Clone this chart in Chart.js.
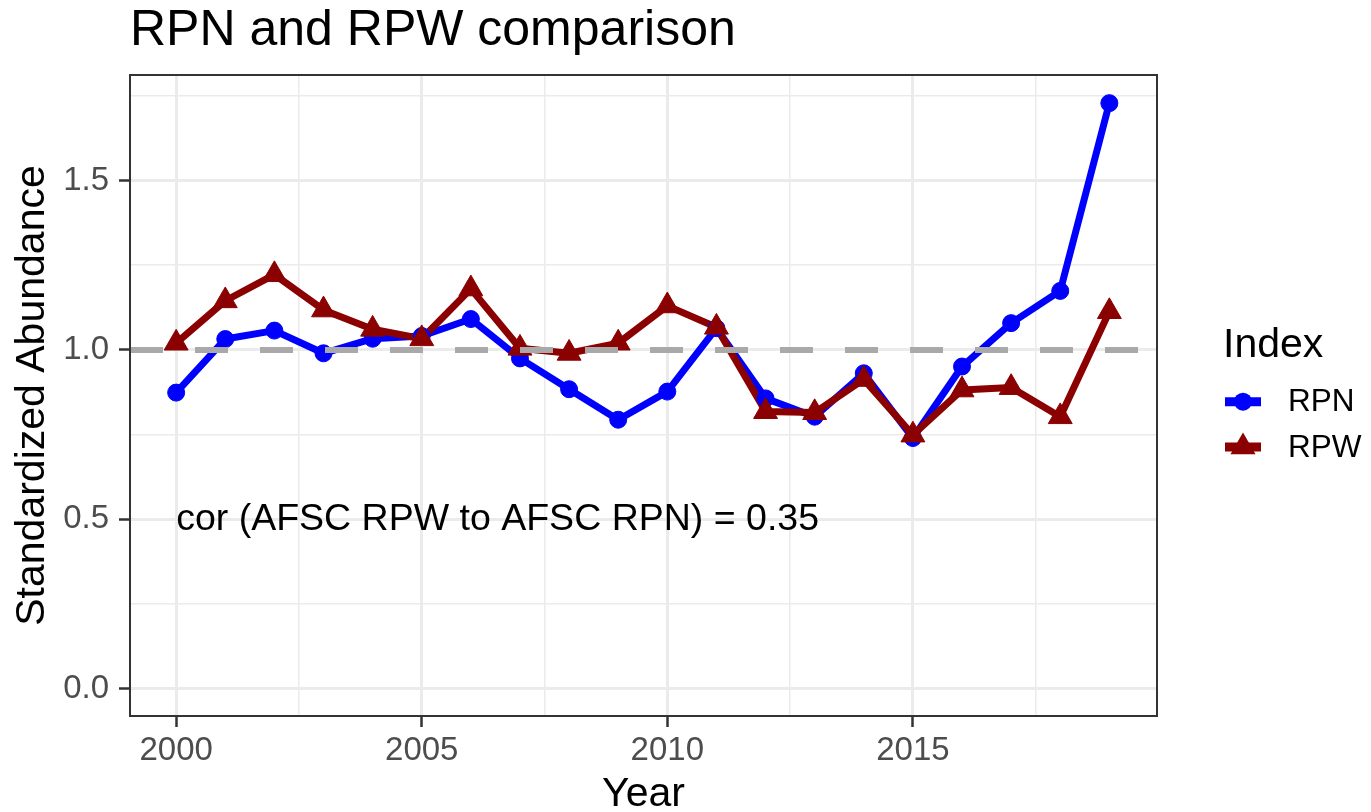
<!DOCTYPE html>
<html><head><meta charset="utf-8">
<script src="https://cdn.jsdelivr.net/npm/chart.js@4.4.1/dist/chart.umd.min.js"></script>
<style>html,body{margin:0;padding:0;background:#fff;overflow:hidden}canvas{display:block}</style>
</head><body>
<canvas id="c" width="1371" height="812"></canvas>
<script>
// ---- data ----
const years = [2000,2001,2002,2003,2004,2005,2006,2007,2008,2009,2010,2011,2012,2013,2014,2015,2016,2017,2018,2019];
const rpn = [0.874,1.032,1.057,0.990,1.033,1.041,1.091,0.975,0.884,0.794,0.877,1.064,0.857,0.803,0.931,0.740,0.951,1.079,1.174,1.728];
const rpw = [1.020,1.145,1.222,1.118,1.061,1.033,1.180,1.005,0.990,1.020,1.130,1.067,0.818,0.815,0.913,0.749,0.882,0.889,0.803,1.113];
const seriesNames = ['RPN','RPW'];
const seriesColors = ['#0000FF','#8B0000'];
const refLevel = 1.0;
const xMajorTicks = [2000,2005,2010,2015];
const xTickLabels = ['2000','2005','2010','2015'];
const xMinorTicks = [2002.5,2007.5,2012.5,2017.5];
const yMajorTicks = [0,0.5,1,1.5];
const yTickLabels = ['0.0','0.5','1.0','1.5'];
const yMinorTicks = [0.25,0.75,1.25,1.75];
const xLimits = [1999.06, 2019.97];
const yLimits = [-0.08, 1.811];
const corLabel = 'cor (AFSC RPW to AFSC RPN) = 0.35';
const corPos = {x: 2000, y: 0.5};

const FONT = '"Liberation Sans", Arial, Helvetica, sans-serif';
Chart.defaults.font.family = FONT;

const pts = arr => years.map((yr, i) => ({x: yr, y: arr[i]}));
const isMajor = (list, v) => list.some(m => Math.abs(m - v) < 1e-9);

const decor = {
  id: 'decor',
  afterDraw(chart) {
    const {ctx, chartArea: a, scales: {x, y}} = chart;
    ctx.save();
    // annotation
    ctx.font = '37.5px ' + FONT;
    ctx.fillStyle = '#000';
    ctx.textAlign = 'left';
    ctx.textBaseline = 'middle';
    ctx.fillText(corLabel, x.getPixelForValue(corPos.x), y.getPixelForValue(corPos.y));
    // panel border
    ctx.strokeStyle = '#333333';
    ctx.lineWidth = 2;
    ctx.strokeRect(a.left, a.top, a.right - a.left, a.bottom - a.top);
    // legend
    const lx = a.right + 66;
    ctx.font = '41px ' + FONT;
    ctx.textBaseline = 'alphabetic';
    ctx.fillStyle = '#000';
    ctx.fillText('Index', lx, a.top + 282);
    const rows = [a.top + 326.7, a.top + 372];
    seriesNames.forEach((name, i) => {
      const cy = rows[i];
      const col = seriesColors[i];
      ctx.strokeStyle = col;
      ctx.fillStyle = col;
      ctx.lineWidth = 9;
      ctx.lineCap = 'butt';
      ctx.beginPath();
      ctx.moveTo(a.right + 68, cy);
      ctx.lineTo(a.right + 104, cy);
      ctx.stroke();
      const cx = a.right + 86;
      ctx.beginPath();
      if (i === 0) {
        ctx.arc(cx, cy, 9, 0, Math.PI * 2);
      } else {
        const r = 14.5;
        for (let k = 0; k < 3; k++) {
          const ang = k * 2 * Math.PI / 3;
          const px = cx + Math.sin(ang) * r, py = cy - Math.cos(ang) * r;
          if (k === 0) ctx.moveTo(px, py); else ctx.lineTo(px, py);
        }
        ctx.closePath();
      }
      ctx.fill();
      ctx.font = '31.5px ' + FONT;
      ctx.fillStyle = '#000';
      ctx.textBaseline = 'middle';
      ctx.fillText(name, a.right + 131, cy + 1);
    });
    ctx.restore();
  }
};

new Chart(document.getElementById('c'), {
  type: 'line',
  data: {
    datasets: [
      {label: 'ref', data: [{x: xLimits[0], y: refLevel}, {x: xLimits[1], y: refLevel}],
       borderColor: '#A9A9A9', borderWidth: 6, borderDash: [33, 32], borderCapStyle: 'butt',
       pointRadius: 0, order: 0},
      {label: seriesNames[1] + ' points', data: pts(rpw), showLine: false, pointStyle: 'triangle',
       pointRadius: 13.8, pointBackgroundColor: seriesColors[1], pointBorderColor: seriesColors[1],
       pointBorderWidth: 1, order: 1},
      {label: seriesNames[0] + ' points', data: pts(rpn), showLine: false, pointStyle: 'circle',
       pointRadius: 8.5, pointBackgroundColor: seriesColors[0], pointBorderColor: seriesColors[0],
       pointBorderWidth: 1, order: 2},
      {label: seriesNames[1], data: pts(rpw), borderColor: seriesColors[1], borderWidth: 7,
       borderJoinStyle: 'round', pointRadius: 0, tension: 0, order: 3},
      {label: seriesNames[0], data: pts(rpn), borderColor: seriesColors[0], borderWidth: 7,
       borderJoinStyle: 'round', pointRadius: 0, tension: 0, order: 4}
    ]
  },
  options: {
    responsive: false,
    animation: false,
    devicePixelRatio: 1,
    events: [],
    layout: {padding: {left: 0, right: 214, top: 0, bottom: 0}},
    plugins: {
      legend: {display: false},
      tooltip: {enabled: false},
      title: {display: true, text: 'RPN and RPW comparison', align: 'start', fullSize: false,
        color: '#000', font: {size: 50, weight: 'normal', lineHeight: 1.2},
        padding: {top: 1, bottom: 14}}
    },
    scales: {
      x: {
        type: 'linear', min: xLimits[0], max: xLimits[1],
        afterBuildTicks: s => { s.ticks = xMajorTicks.concat(xMinorTicks).sort((p, q) => p - q).map(v => ({value: v})); },
        afterFit: s => { s.height = 96; },
        ticks: {autoSkip: false, maxRotation: 0, color: '#4D4D4D', font: {size: 33, lineHeight: 1.2}, padding: 4,
          callback: v => { const i = xMajorTicks.findIndex(m => Math.abs(m - v) < 1e-9); return i >= 0 ? xTickLabels[i] : ''; }},
        grid: {color: '#EBEBEB', lineWidth: c => (c.tick && isMajor(xMajorTicks, c.tick.value)) ? 3 : 1.5,
          tickColor: c => (c.tick && isMajor(xMajorTicks, c.tick.value)) ? '#333333' : 'rgba(0,0,0,0)',
          tickLength: 11, tickWidth: 2.5, drawTicks: true},
        border: {display: false},
        title: {display: true, text: 'Year', color: '#000', font: {size: 41, lineHeight: 0.85}, padding: {top: 0, bottom: 0}}
      },
      y: {
        type: 'linear', min: yLimits[0], max: yLimits[1],
        afterBuildTicks: s => { s.ticks = yMajorTicks.concat(yMinorTicks).sort((p, q) => p - q).map(v => ({value: v})); },
        afterFit: s => { s.width = 130; },
        ticks: {autoSkip: false, color: '#4D4D4D', font: {size: 33, lineHeight: 1.2}, padding: 10,
          callback: v => { const i = yMajorTicks.findIndex(m => Math.abs(m - v) < 1e-9); return i >= 0 ? yTickLabels[i] : ''; }},
        grid: {color: '#EBEBEB', lineWidth: c => (c.tick && isMajor(yMajorTicks, c.tick.value)) ? 3 : 1.5,
          tickColor: c => (c.tick && isMajor(yMajorTicks, c.tick.value)) ? '#333333' : 'rgba(0,0,0,0)',
          tickLength: 11, tickWidth: 2.5, drawTicks: true},
        border: {display: false},
        title: {display: true, text: 'Standardized Abundance', color: '#000', font: {size: 41, lineHeight: 1}, padding: {top: 12, bottom: 0}}
      }
    }
  },
  plugins: [decor]
});
</script>
</body></html>
